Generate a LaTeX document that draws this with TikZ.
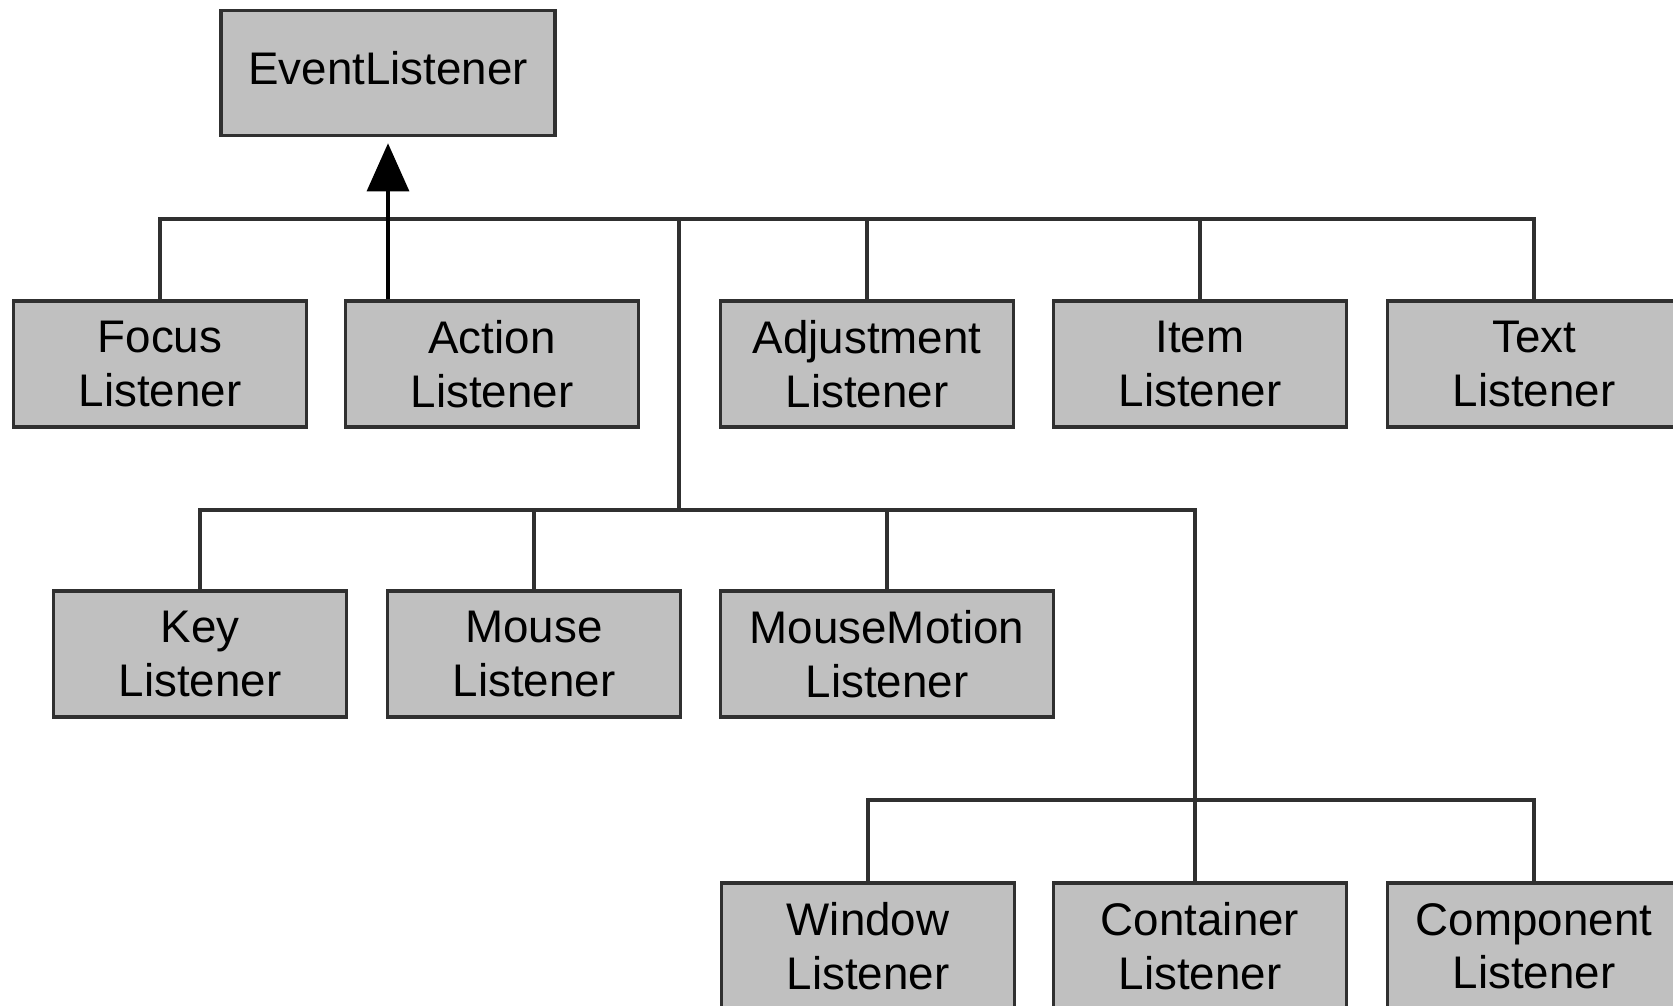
\documentclass[tikz,border=0pt]{standalone}
\usepackage{fontspec}
\setmainfont{Liberation Sans}
\usepackage{tikz}
\usetikzlibrary{arrows.meta}
\usetikzlibrary{calc}

\definecolor{boxgray}{HTML}{C0C0C0}
\definecolor{edgegray}{HTML}{303030}

\tikzset{
  listener/.style={draw=edgegray, line width=1pt, fill=boxgray, align=center,
    minimum width=2.93cm, minimum height=1.26cm, inner sep=0pt,
    font=\fontsize{13}{15.2}\selectfont},
  link/.style={draw=edgegray, line width=0.9pt}
}

\begin{document}
\begin{tikzpicture}[x=0.01cm,y=-0.01cm]
  \useasboundingbox[fill=white] (0,0) rectangle (1673,1005);
  \clip (0,0) rectangle (1673,1005);

  \node[listener, minimum width=3.34cm, minimum height=1.25cm, text depth=0.1cm] (event) at (388,73) {EventListener};

  % first row
  \foreach \name/\x/\lbl in {focus/160/Focus,action/492/Action,adjust/867/Adjustment,item/1200/Item,text/1534/Text} {
      \node[listener] (\name) at (\x,364) {\lbl\\Listener};
    }
  % second row
  \foreach \name/\x/\lbl in {key/200/Key,mouse/534/Mouse} {
      \node[listener] (\name) at (\x,654) {\lbl\\Listener};
    }
  \node[listener, minimum width=3.33cm] (motion) at (887,654) {MouseMotion\\Listener};
  % third row
  \foreach \name/\x/\lbl in {window/868/Window,container/1200/Container,component/1534/Component} {
      \node[listener] (\name) at (\x,946) {\lbl\\Listener};
    }

  \coordinate (j1) at (679,219);
  \coordinate (j2) at (679,510);
  \coordinate (j3) at (1195,800);

  \draw[link] (focus.north) |- (j1) -| (text.north);
  \draw[link,draw=black,-{Triangle[length=0.48cm,width=0.42cm]},shorten >=0.06cm]
    (event.south |- action.north) -- (event.south);
  \draw[link] (adjust.north) -- (adjust.north |- j1);
  \draw[link] (item.north) -- (item.north |- j1);
  \draw[link] (j1) -- (j2);

  \draw[link] (key.north) |- (j2) -| (j3);
  \draw[link] (mouse.north) -- (mouse.north |- j2);
  \draw[link] (motion.north) -- (motion.north |- j2);

  \draw[link] (window.north) |- (j3) -| (component.north);
  \draw[link] (j3) -- (j3 |- container.north);
\end{tikzpicture}
\end{document}
